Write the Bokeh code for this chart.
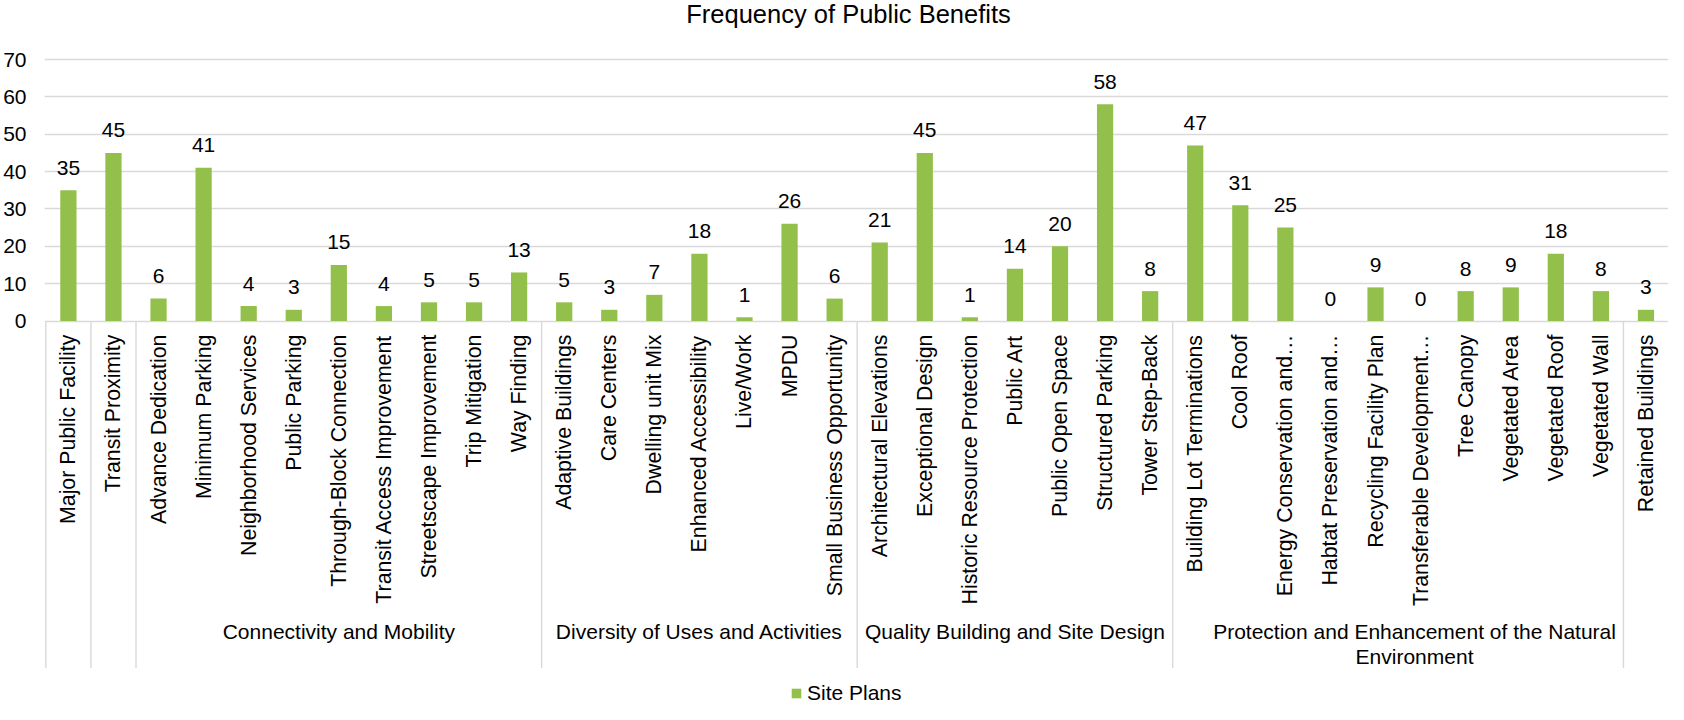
import math
import textwrap
from bokeh.plotting import figure
from bokeh.models import Range1d, FixedTicker, ColumnDataSource, Legend, LegendItem
from bokeh.core.properties import value
from bokeh.embed import file_html
from bokeh.resources import INLINE

# ---------------- data ----------------
title_text = "Frequency of Public Benefits"
series_name = "Site Plans"

categories = [
    "Major Public Facility",
    "Transit Proximity",
    "Advance Dedication", "Minimum Parking", "Neighborhood Services", "Public Parking",
    "Through-Block Connection", "Transit Access Improvement", "Streetscape Improvement",
    "Trip Mitigation", "Way Finding",
    "Adaptive Buildings", "Care Centers", "Dwelling unit Mix", "Enhanced Accessibility",
    "Live/Work", "MPDU", "Small Business Opportunity",
    "Architectural Elevations", "Exceptional Design", "Historic Resource Protection",
    "Public Art", "Public Open Space", "Structured Parking", "Tower Step-Back",
    "Building Lot Terminations", "Cool Roof", "Energy Conservation and\u2026",
    "Habtat Preservation and\u2026", "Recycling Facility Plan", "Transferable Development\u2026",
    "Tree Canopy", "Vegetated Area", "Vegetated Roof", "Vegetated Wall",
    "Retained Buildings",
]
values = [
    35,
    45,
    6, 41, 4, 3, 15, 4, 5, 5, 13,
    5, 3, 7, 18, 1, 26, 6,
    21, 45, 1, 14, 20, 58, 8,
    47, 31, 25, 0, 9, 0, 8, 9, 18, 8,
    3,
]
group_names = [
    "",
    "",
    "Connectivity and Mobility",
    "Diversity of Uses and Activities",
    "Quality Building and Site Design",
    "Protection and Enhancement of the Natural Environment",
    "",
]
group_sizes = [1, 1, 9, 7, 7, 10, 1]
y_ticks = [0, 10, 20, 30, 40, 50, 60, 70]

# ---------------- style / layout ----------------
FONT = "Liberation Sans"
GREEN = "#92C04B"
GRID = "#D9D9D9"
TEXT = "#000000"

W, H = 1668, 704
LEFT = 42
FRAME_W = W - LEFT
ZERO_PX = 320.5      # figure px (from top) of the zero line
TOP_PX = 59.0        # figure px of the top gridline
PX = (ZERO_PX - TOP_PX) / max(y_ticks)


def d(px):
    return px / PX


n = len(categories)
x_pad = 0.03
XPX = FRAME_W / (n + x_pad)
y_start = -(H - ZERO_PX) / PX
y_end = max(y_ticks) + TOP_PX / PX

p = figure(width=W, height=H,
           x_range=Range1d(-x_pad, n), y_range=Range1d(y_start, y_end),
           output_backend="svg", toolbar_location=None,
           min_border_left=LEFT, min_border_right=0,
           min_border_top=0, min_border_bottom=0)
p.outline_line_color = None
p.background_fill_color = "white"
p.border_fill_color = "white"
p.xaxis.visible = False
p.xgrid.visible = False

p.ygrid.ticker = FixedTicker(ticks=y_ticks)
p.ygrid.grid_line_color = GRID
p.ygrid.grid_line_width = 1.4

ax = p.yaxis[0]
ax.ticker = FixedTicker(ticks=y_ticks)
ax.axis_line_color = None
ax.major_tick_line_color = None
ax.minor_tick_line_color = None
ax.major_tick_out = 0
ax.major_tick_in = 0
ax.major_label_standoff = 18
ax.major_label_text_font = FONT
ax.major_label_text_font_size = "21px"
ax.major_label_text_color = TEXT

# bars
xs = [i + 0.5 for i in range(n)]
src = ColumnDataSource(dict(x=xs, v=values, cat=categories,
                            lbl=[str(v) for v in values],
                            ly=[v + d(22.5) for v in values]))
bars = p.vbar(x="x", top="v", width=0.36, source=src,
              fill_color=GREEN, line_color=None)

# value labels
p.text(x="x", y="ly", text="lbl", source=src,
       text_align="center", text_baseline="alphabetic",
       text_font=value(FONT), text_font_size="21px", text_color=TEXT)

# category labels (vertical)
p.text(x="x", y=-d(13.6), text="cat", source=src, angle=math.pi / 2,
       text_align="right", text_baseline="middle",
       text_font=value(FONT), text_font_size="21.3px", text_color=TEXT)

# group separators and labels
bounds = [0]
for s in group_sizes:
    bounds.append(bounds[-1] + s)
sep_x = bounds[:-1]
p.segment(x0=sep_x, y0=[0] * len(sep_x), x1=sep_x, y1=[-d(347.0)] * len(sep_x),
          line_color=GRID, line_width=1.4)

gx, gy, gt = [], [], []
line_pos = [310.5, 335.0]
for name, a, b in zip(group_names, bounds[:-1], bounds[1:]):
    if not name:
        continue
    lines = textwrap.wrap(name, 42)
    for k, ln in enumerate(lines):
        gx.append((a + b) / 2 + (0 if len(lines) == 1 else 16.5 / XPX))
        gy.append(-d(line_pos[k]))
        gt.append(ln)
p.text(x=gx, y=gy, text=gt, text_align="center", text_baseline="alphabetic",
       text_font=value(FONT), text_font_size="21px", text_color=TEXT)

# title
p.text(x=[-x_pad + (847 - LEFT) / XPX], y=[d(ZERO_PX - 13)], text=[title_text],
       text_align="center", text_baseline="alphabetic",
       text_font=value(FONT), text_font_size="25.5px", text_color=TEXT)

# legend
legend = Legend(items=[LegendItem(label=series_name, renderers=[bars])],
                location=(788 - LEFT, -1), orientation="horizontal",
                padding=0, margin=0, border_line_color=None,
                background_fill_alpha=0,
                glyph_width=12, glyph_height=12, label_standoff=5,
                label_text_font=FONT, label_text_font_size="21px",
                label_text_color=TEXT)
p.add_layout(legend)

open("out.html", "w").write(file_html(p, INLINE))
